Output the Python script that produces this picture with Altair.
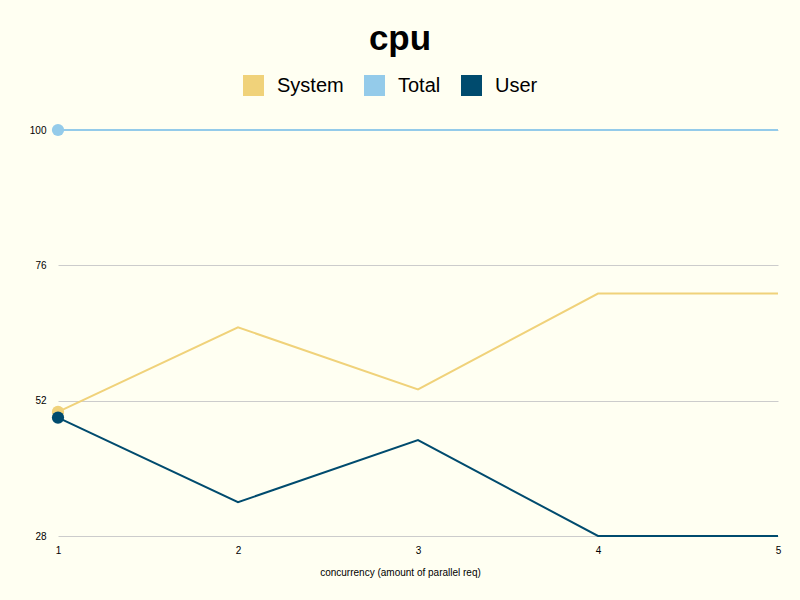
import altair as alt
import pandas as pd

concurrency = [1, 2, 3, 4, 5]
system = [50, 65, 54, 71, 71]
total = [100, 100, 100, 100, 100]
user = [49, 34, 45, 28, 28]

series_names = ["System", "Total", "User"]
series_colors = ["#f0d27a", "#94cbea", "#004b6e"]
y_ticks = [28, 52, 76, 100]

rows = []
for name, vals in zip(series_names, [system, total, user]):
    for i, (c, v) in enumerate(zip(concurrency, vals)):
        rows.append({"concurrency": c, "value": v, "series": name, "order": series_names.index(name)})
df = pd.DataFrame(rows)

FONT = "Liberation Sans"

x = alt.X("concurrency:Q",
          scale=alt.Scale(domain=[1, 5], nice=False, zero=False),
          axis=alt.Axis(values=concurrency, format="d", grid=False, domain=False, ticks=False,
                        labelFlush=False, labelBound=False,
                        labelPadding=9, labelFontSize=10, labelColor="#000",
                        title="concurrency (amount of parallel req)",
                        titleFontSize=10, titleFontWeight="normal", titleColor="#000",
                        titlePadding=12, titleX=342, titleAlign="center"))
y = alt.Y("value:Q",
          scale=alt.Scale(domain=[28, 100], nice=False, zero=False),
          axis=alt.Axis(values=y_ticks, grid=True, gridColor="#cccccc", domain=False, ticks=False,
                        labelFlush=False, labelBound=False,
                        labelPadding=12, labelFontSize=10, labelColor="#000", title=None))
color = alt.Color("series:N",
                  scale=alt.Scale(domain=series_names, range=series_colors),
                  legend=alt.Legend(title=None, orient="none", direction="horizontal",
                                    legendX=185, legendY=-55,
                                    symbolType="square", symbolSize=441, symbolStrokeWidth=0,
                                    symbolOpacity=1,
                                    labelFontSize=20, labelOffset=13, columnPadding=20,
                                    labelColor="#000"))

base = alt.Chart(df)
lines = base.mark_line(strokeWidth=2).encode(x=x, y=y, color=color, order="order:Q", detail="series:N")
points = base.transform_filter(alt.datum.concurrency == 1).mark_circle(size=150, opacity=1).encode(
    x=x, y=y, color=alt.Color("series:N", scale=alt.Scale(domain=series_names, range=series_colors), legend=None),
    order="order:Q")

chart = alt.layer(lines, points).properties(
    width=720, height=406,
    title=alt.TitleParams("cpu", fontSize=35, fontWeight="bold", font=FONT, color="#000",
                          anchor="middle", dx=-18, offset=18),
    autosize=alt.AutoSizeParams(type="none"),
    padding={"left": 58, "top": 130, "right": 22, "bottom": 64},
    background="#fffff2",
).configure(font=FONT).configure_view(strokeWidth=0, stroke=None)

chart.save("out.html", embed_options={"renderer": "svg", "actions": False})
